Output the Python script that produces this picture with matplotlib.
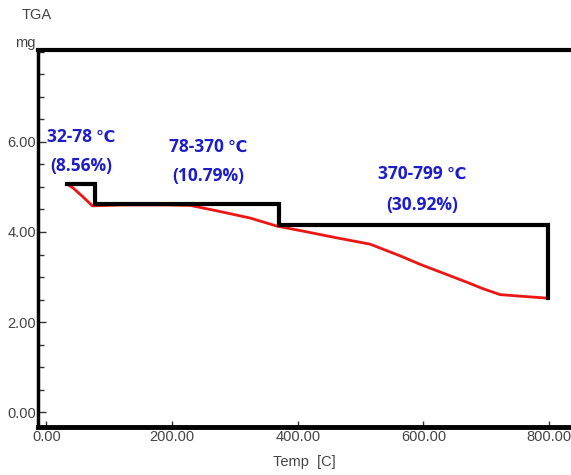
import matplotlib
matplotlib.use("Agg")
import matplotlib.pyplot as plt
from matplotlib.ticker import MultipleLocator, FormatStrFormatter
from matplotlib.transforms import offset_copy
from matplotlib import font_manager

# ---- data ----
temp = [32, 42, 58, 73, 120, 190, 229, 271, 324, 367, 408, 462, 515, 563, 595,
        642, 670, 695, 722, 749, 799]
mass = [5.07, 4.98, 4.78, 4.58, 4.60, 4.60, 4.59, 4.47, 4.31, 4.13, 4.02, 3.87, 3.73,
        3.47, 3.28, 3.03, 2.88, 2.74, 2.61, 2.58, 2.53]

step_bounds = [32, 78, 370, 799]          # temperature boundaries (°C)
step_levels = [5.07, 4.62, 4.16, 2.53]    # mass levels (mg)

range_labels = ["32-78", "78-370", "370-799"]
unit_label = "\u2103"
loss_labels = ["(8.56%)", "(10.79%)", "(30.92%)"]
label_x = [55, 257, 598]
label_y_top = [6.11, 5.89, 5.28]
label_y_bot = [5.46, 5.24, 4.60]

xticks = [0, 200, 400, 600, 800]
yticks = [0, 2, 4, 6]

# fonts
names = {f.name for f in font_manager.fontManager.ttflist}
tick_font = ["Liberation Sans Narrow", "Liberation Sans", "DejaVu Sans"]
tick_font = [f for f in tick_font if f in names] or ["DejaVu Sans"]
ann_font = [f for f in ["Open Sans", "Noto Sans", "DejaVu Sans"] if f in names] + ["DejaVu Sans"]
ann_color = "#1c1cc8"
ann_size = 12.5

fig = plt.figure(figsize=(5.71, 4.75), dpi=100)
ax = fig.add_axes([0.0657, 0.101, 0.9343, 0.7937])

ax.set_xlim(-14.3, 835)
ax.set_ylim(-0.33, 8.04)

# step outline
sx, sy = [step_bounds[0]], [step_levels[0]]
for i in range(1, len(step_bounds)):
    sx += [step_bounds[i], step_bounds[i]]
    sy += [step_levels[i - 1], step_levels[i]]
ax.plot(sx, sy, color="black", lw=3.0, solid_joinstyle="miter", zorder=3)

# TGA curve
ax.plot(temp, mass, color="#ee1515", lw=2.0, zorder=2, solid_joinstyle="round")

# annotations
renderer = fig.canvas.get_renderer()
for x, yt, yb, t1, t2 in zip(label_x, label_y_top, label_y_bot, range_labels, loss_labels):
    a = ax.text(x, yt, t1 + " ", color=ann_color, fontsize=ann_size, fontweight="bold",
                ha="left", va="center", family=ann_font)
    b = ax.text(x, yt, unit_label, color=ann_color, fontsize=ann_size - 1, fontweight="bold",
                ha="left", va="center", family=["DejaVu Sans"])
    wa = a.get_window_extent(renderer).width * 72 / fig.dpi
    wb = b.get_window_extent(renderer).width * 72 / fig.dpi
    tot = wa + wb
    a.set_transform(offset_copy(ax.transData, fig=fig, x=-tot / 2, y=0, units="points"))
    b.set_transform(offset_copy(ax.transData, fig=fig, x=-tot / 2 + wa, y=0, units="points"))
    ax.text(x, yb, t2, color=ann_color, fontsize=ann_size, fontweight="bold",
            ha="center", va="center", family=ann_font)

# spines
ax.spines["left"].set_linewidth(2.5)
ax.spines["bottom"].set_linewidth(3.5)
ax.spines["top"].set_linewidth(3)
for s in ["left", "bottom", "top"]:
    ax.spines[s].set_color("black")
ax.spines["right"].set_visible(False)

ax.set_xticks(xticks)
ax.set_yticks(yticks)
ax.yaxis.set_minor_locator(MultipleLocator(0.5))
ax.xaxis.set_major_formatter(FormatStrFormatter("%.2f"))
ax.yaxis.set_major_formatter(FormatStrFormatter("%.2f"))
ax.tick_params(axis="both", which="both", direction="in", color="#333333",
               labelcolor="#444444", labelsize=10.5, pad=2)
ax.tick_params(axis="y", which="major", length=6, width=1)
ax.tick_params(axis="y", which="minor", length=4, width=1)
ax.tick_params(axis="x", which="major", length=4, width=1)
for lab in ax.get_xticklabels() + ax.get_yticklabels():
    lab.set_family(tick_font)
ax.tick_params(axis="y", pad=1)

ax.set_xlabel("Temp  [C]", color="#444444", fontsize=10.5, family=tick_font, labelpad=8)

fig.text(37 / 571, 1 - 15 / 475, "TGA", color="#444444", fontsize=10.5,
         family=tick_font, ha="center", va="center")
fig.text(36 / 571, 1 - 43 / 475, "mg", color="#444444", fontsize=10.5,
         family=tick_font, ha="right", va="center")

fig.savefig("out.png", dpi=100)
